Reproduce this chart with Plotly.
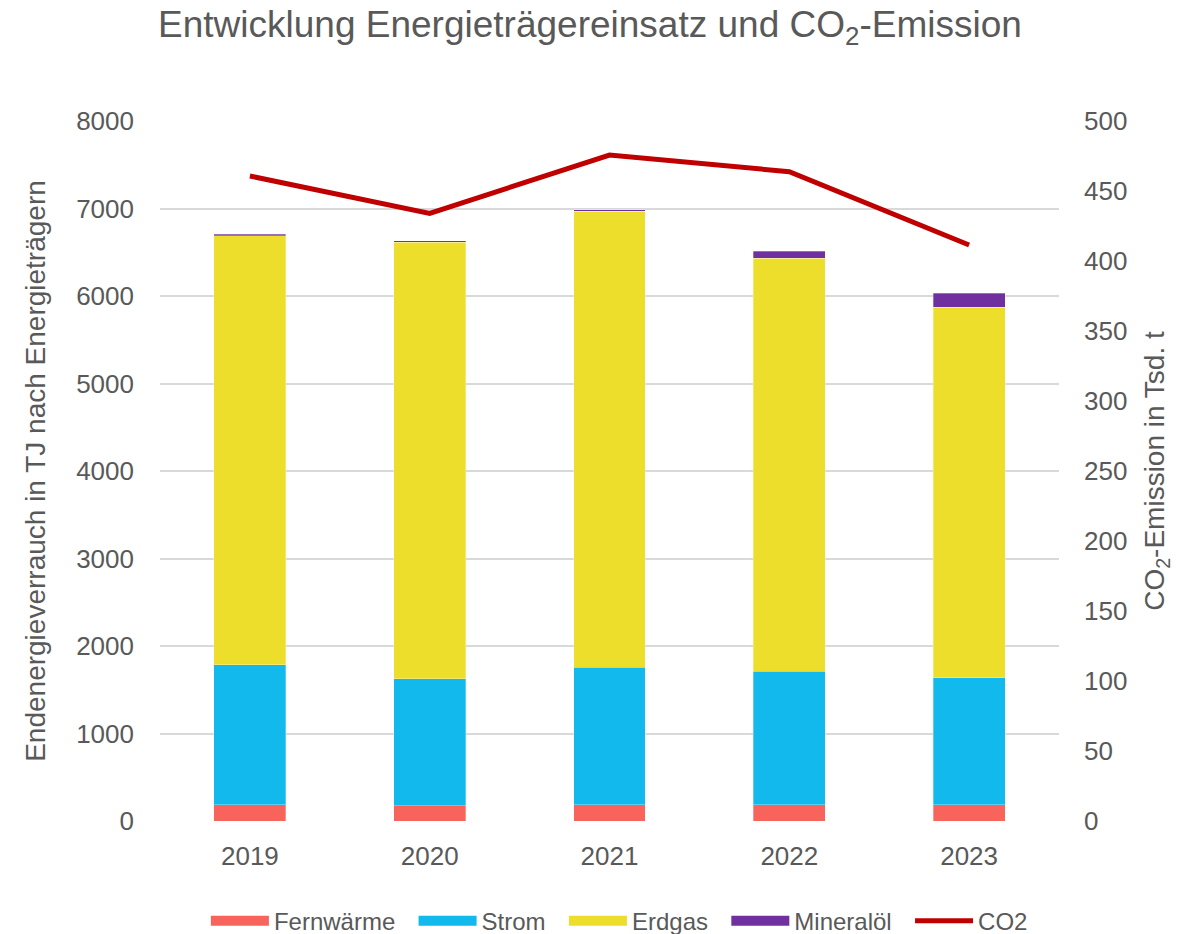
import plotly.graph_objects as go

years = ["2019", "2020", "2021", "2022", "2023"]
fernwaerme = [183, 175, 183, 183, 183]
strom = [1600, 1448, 1574, 1528, 1455]
erdgas = [4906, 4991, 5211, 4720, 4233]
mineraloel = [16, 20, 15, 83, 160]
co2 = [460.7, 434.0, 475.7, 463.8, 411.4]

FONT = "Liberation Sans, Arial, sans-serif"
GREY = "#595959"
GAP = "\u00a0\u00a0"  # extra room after each legend label

fig = go.Figure()
bar_series = [
    ("Fernwärme", fernwaerme, "#F8645C"),
    ("Strom", strom, "#12B9EC"),
    ("Erdgas", erdgas, "#EEDE2C"),
    ("Mineralöl", mineraloel, "#7030A0"),
]
for name, vals, color in bar_series:
    fig.add_trace(go.Bar(
        x=years, y=vals, name=name, showlegend=False,
        marker=dict(color=color, line=dict(color="rgba(255,255,255,0.6)", width=0.5)),
        width=0.4,
    ))

fig.add_trace(go.Scatter(
    x=years, y=co2, name="CO2", yaxis="y2", mode="lines", showlegend=False,
    line=dict(color="#C00000", width=5),
))

# legend entries: wide colour swatches for the bar series, thin line for CO2
for name, _, color in bar_series:
    fig.add_trace(go.Scatter(
        x=[None], y=[None], name=name + GAP, mode="lines",
        line=dict(color=color, width=10),
    ))
fig.add_trace(go.Scatter(
    x=[None], y=[None], name="CO2", mode="lines", yaxis="y2",
    line=dict(color="#C00000", width=5),
))

fig.update_layout(
    width=1187, height=934,
    barmode="stack",
    plot_bgcolor="white", paper_bgcolor="white",
    margin=dict(l=160, r=128, t=121, b=113, autoexpand=False),
    font=dict(family=FONT, color=GREY, size=26),
    title=dict(
        text="Entwicklung Energieträgereinsatz und CO<sub>2</sub>-Emission",
        x=0.497, xanchor="center", y=1 - 24 / 934, yanchor="middle",
        font=dict(size=37, color=GREY, family=FONT),
    ),
    xaxis=dict(
        showgrid=False, showline=False, ticks="",
        tickfont=dict(size=26, color=GREY), ticklabelstandoff=17,
    ),
    yaxis=dict(
        range=[0, 8000], dtick=1000, showgrid=True, gridcolor="#D9D9D9", gridwidth=1.5,
        zeroline=False, showline=False, ticks="",
        tickfont=dict(size=26, color=GREY), ticklabelstandoff=25,
        title=dict(text="Endenergieverrauch in TJ nach Energieträgern",
                   font=dict(size=28, color=GREY), standoff=22),
    ),
    yaxis2=dict(
        range=[0, 500], dtick=50, overlaying="y", side="right",
        showgrid=False, zeroline=False, showline=False, ticks="",
        tickfont=dict(size=26, color=GREY), ticklabelstandoff=24,
        title=dict(text="CO<sub>2</sub>-Emission in Tsd. t",
                   font=dict(size=28, color=GREY), standoff=18),
    ),
    legend=dict(
        orientation="h", x=0.511, xanchor="center", y=-0.143, yanchor="middle",
        font=dict(size=24, color=GREY), traceorder="normal",
        itemwidth=58,
    ),
)

fig.write_html("out.html")
